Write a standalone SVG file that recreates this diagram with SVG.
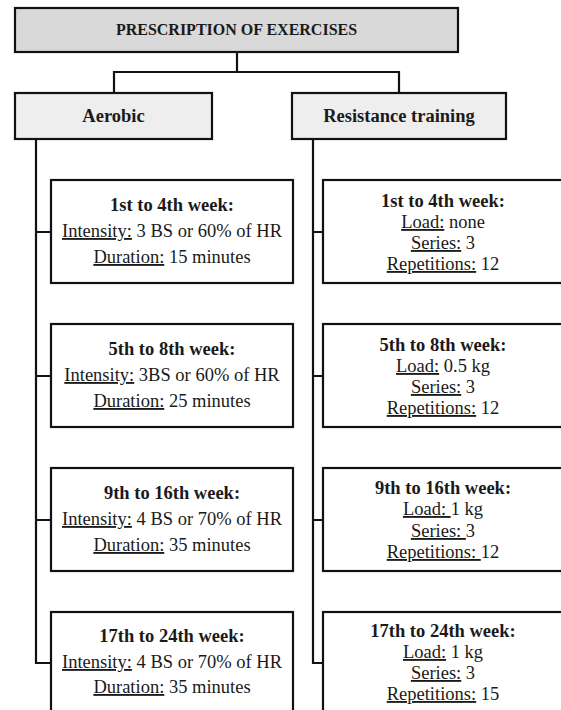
<svg xmlns="http://www.w3.org/2000/svg" width="561" height="710" viewBox="0 0 561 710">
<style>
.box{fill:#fff;stroke:#111;stroke-width:2.2}
.top{fill:#d9d9d9;stroke:#111;stroke-width:2.2}
.sub{fill:#eeeeee;stroke:#111;stroke-width:2.2}
.con{fill:none;stroke:#111;stroke-width:2.2}
text{font-family:"Liberation Serif","Times New Roman",serif;fill:#1a1a1a;text-anchor:middle}
.t{font-size:16px;font-weight:bold}
.h{font-size:18.5px;font-weight:bold}
.b{font-size:18.5px}
.u{text-decoration:underline}
</style>
<rect width="561" height="710" fill="#fff"/>
<g id="connectors">
<path class="con" d="M237 52V72M114 93V72H399V93"/>
<path class="con" d="M36 139V663H51M36 232H51M36 376H51M36 520H51"/>
<path class="con" d="M313 139V663H323M313 232H323M313 376H323M313 520H323"/>
</g>
<g id="n-title"><rect class="top" x="15" y="8" width="443" height="44"/><text class="t" x="236.5" y="35">PRESCRIPTION OF EXERCISES</text></g>
<g id="n-aerobic"><rect class="sub" x="15" y="93" width="197" height="46"/><text class="h" x="113.5" y="122">Aerobic</text></g>
<g id="n-resistance"><rect class="sub" x="292" y="93" width="214" height="46"/><text class="h" x="399" y="122">Resistance training</text></g>

<g id="n-a1"><rect class="box" x="51" y="180" width="242" height="103"/>
<text class="h" x="172" y="211">1st to 4th week:</text>
<text class="b" x="172" y="237"><tspan class="u">Intensity:</tspan> 3 BS or 60% of HR</text>
<text class="b" x="172" y="263"><tspan class="u">Duration:</tspan> 15 minutes</text></g>
<g id="n-a2"><rect class="box" x="51" y="324" width="242" height="103"/>
<text class="h" x="172" y="355">5th to 8th week:</text>
<text class="b" x="172" y="381"><tspan class="u">Intensity:</tspan> 3BS or 60% of HR</text>
<text class="b" x="172" y="407"><tspan class="u">Duration:</tspan> 25 minutes</text></g>
<g id="n-a3"><rect class="box" x="51" y="468" width="242" height="103"/>
<text class="h" x="172" y="499">9th to 16th week:</text>
<text class="b" x="172" y="525"><tspan class="u">Intensity:</tspan> 4 BS or 70% of HR</text>
<text class="b" x="172" y="551"><tspan class="u">Duration:</tspan> 35 minutes</text></g>
<g id="n-a4"><rect class="box" x="51" y="612" width="242" height="110"/>
<text class="h" x="172" y="642">17th to 24th week:</text>
<text class="b" x="172" y="668"><tspan class="u">Intensity:</tspan> 4 BS or 70% of HR</text>
<text class="b" x="172" y="693"><tspan class="u">Duration:</tspan> 35 minutes</text></g>

<g id="n-r1"><rect class="box" x="323" y="180" width="245" height="103"/>
<text class="h" x="443" y="207">1st to 4th week:</text>
<text class="b" x="443" y="228"><tspan class="u">Load:</tspan> none</text>
<text class="b" x="443" y="249"><tspan class="u">Series:</tspan> 3</text>
<text class="b" x="443" y="270"><tspan class="u">Repetitions:</tspan> 12</text></g>
<g id="n-r2"><rect class="box" x="323" y="324" width="245" height="103"/>
<text class="h" x="443" y="351">5th to 8th week:</text>
<text class="b" x="443" y="372"><tspan class="u">Load:</tspan> 0.5 kg</text>
<text class="b" x="443" y="393"><tspan class="u">Series:</tspan> 3</text>
<text class="b" x="443" y="414"><tspan class="u">Repetitions:</tspan> 12</text></g>
<g id="n-r3"><rect class="box" x="323" y="468" width="245" height="103"/>
<text class="h" x="443" y="494">9th to 16th week:</text>
<text class="b" x="443" y="515"><tspan class="u">Load: </tspan>1 kg</text>
<text class="b" x="443" y="537"><tspan class="u">Series: </tspan>3</text>
<text class="b" x="443" y="558"><tspan class="u">Repetitions: </tspan>12</text></g>
<g id="n-r4"><rect class="box" x="323" y="612" width="245" height="110"/>
<text class="h" x="443" y="637">17th to 24th week:</text>
<text class="b" x="443" y="658"><tspan class="u">Load:</tspan> 1 kg</text>
<text class="b" x="443" y="679"><tspan class="u">Series:</tspan> 3</text>
<text class="b" x="443" y="700"><tspan class="u">Repetitions:</tspan> 15</text></g>
</svg>
